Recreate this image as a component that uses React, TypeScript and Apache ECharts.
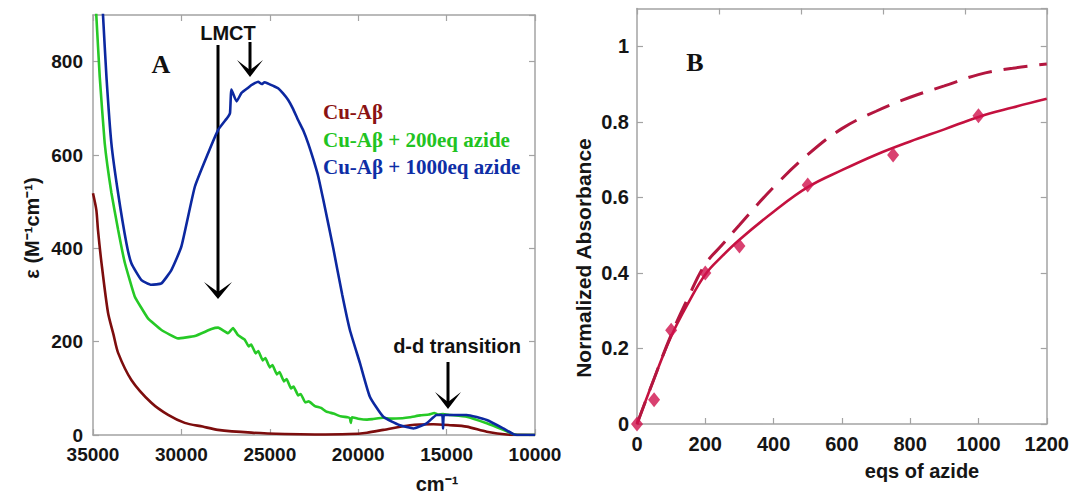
import React, { useEffect, useRef } from "react";
import * as echarts from "echarts";

// Panel A: wavenumber (cm-1) vs epsilon (M-1 cm-1)
const cuAbeta: [number, number][] = [
  [35000, 518], [34810, 482], [34720, 440], [34520, 369], [34150, 262], [33840, 215],
  [33580, 176], [32830, 118], [31700, 69], [30750, 43], [29810, 26], [28800, 18],
  [27940, 11], [26040, 5], [24150, 2], [22450, 1], [20500, 2], [19500, 5], [18580, 11],
  [17070, 21], [15750, 23], [14810, 21], [13870, 18], [12730, 7], [11600, 1], [10000, 0],
];

const cuAbeta200: [number, number][] = [
  [34950, 990], [34810, 897], [34620, 768], [34340, 626], [33960, 519], [33580, 440],
  [33200, 369], [32640, 297], [31890, 250], [31130, 225], [30190, 207], [29240, 212],
  [28300, 227], [27920, 230], [27360, 218], [27080, 229], [26800, 214], [26410, 204],
  [26200, 190], [26050, 194], [25800, 175], [25650, 180], [25400, 160], [25250, 165],
  [25000, 145], [24850, 150], [24600, 130], [24450, 135], [24200, 115], [24050, 120],
  [23800, 100], [23650, 104], [23400, 85], [23250, 88], [23000, 70], [22800, 72],
  [22450, 62], [22100, 58], [21800, 50], [21400, 46], [21000, 40], [20600, 38],
  [20470, 36], [20420, 26], [20350, 38], [20000, 35], [19500, 33], [19200, 34],
  [18580, 37], [18200, 35], [17500, 36], [17070, 38], [16500, 42], [16000, 44],
  [15700, 47], [15500, 44], [15200, 45], [14810, 43], [13870, 39], [12730, 25],
  [11790, 11], [11230, 2], [11000, 0], [10000, 0],
];

const cuAbeta1000: [number, number][] = [
  [34500, 950], [34430, 897], [34240, 768], [33960, 625], [33580, 518], [33110, 411],
  [32830, 368], [32260, 332], [31700, 322], [31130, 325], [30560, 354], [30000, 404],
  [29240, 532], [28490, 604], [27920, 654], [27360, 682], [27250, 690], [27170, 740],
  [26880, 715], [26600, 733], [26300, 742], [26030, 750], [25850, 754], [25660, 757],
  [25450, 752], [25300, 756], [25090, 753], [24800, 748], [24530, 743], [24250, 732],
  [23960, 718], [23700, 700], [23400, 675], [23100, 652], [22830, 625], [22550, 592],
  [22260, 554], [21980, 505], [21700, 454], [21410, 400], [20900, 300], [20470, 225],
  [19900, 154], [19340, 82], [18580, 39], [17640, 21], [16880, 14], [16130, 25],
  [15560, 43], [15250, 43], [15200, 14], [15150, 43], [14810, 43], [13870, 43],
  [12730, 32], [11790, 14], [11230, 2], [11000, 0], [10000, 0],
];

// Panel B: eqs of azide vs normalized absorbance
const azideEq = [0, 50, 100, 200, 300, 500, 750, 1000];
const normAbs = [0, 0.064, 0.248, 0.4, 0.471, 0.633, 0.712, 0.816];

const fitEq = [0, 50, 100, 150, 200, 250, 300, 400, 500, 600, 700, 800, 900, 1000, 1100, 1200];
const fitSolid = [0, 0.12, 0.232, 0.32, 0.396, 0.445, 0.488, 0.562, 0.627, 0.672, 0.713, 0.748, 0.78, 0.813, 0.838, 0.861];
const fitDashed = [0, 0.12, 0.236, 0.335, 0.423, 0.475, 0.527, 0.627, 0.713, 0.782, 0.828, 0.865, 0.895, 0.925, 0.942, 0.953];

const SANS = '"Liberation Sans", Arial, sans-serif';
const SERIF = '"Liberation Serif", "Times New Roman", serif';
const AXIS_GRAY = "#a3a3a3";

const plain = (v: number) => String(parseFloat(Number(v).toFixed(3)));

function labelStyle(extra: any) {
  return {
    fontSize: 20,
    lineHeight: 16,
    fontWeight: "bold",
    color: "#151515",
    fontFamily: SANS,
    formatter: plain,
    ...extra,
  };
}

function axisBase(extra: any) {
  return {
    type: "value",
    splitLine: { show: false },
    axisLine: { show: true, onZero: false, lineStyle: { color: AXIS_GRAY, width: 1.5 } },
    axisTick: { show: true, inside: true, length: 6, lineStyle: { color: AXIS_GRAY, width: 1.2 } },
    ...extra,
  };
}

export default function App() {
  const ref = useRef<HTMLDivElement>(null);
  useEffect(() => {
    if (!ref.current) return;
    const chart = echarts.init(ref.current, null, { renderer: "svg" });
    const noLabel = { show: false };
    const option: any = {
      animation: false,
      backgroundColor: "#ffffff",
      grid: [
        { left: 93, top: 15, width: 442, height: 420 },
        { left: 637, top: 8.5, width: 410, height: 415.5 },
      ],
      xAxis: [
        axisBase({ gridIndex: 0, position: "bottom", min: 10000, max: 35000, interval: 5000, inverse: true,
          axisLabel: labelStyle({ margin: 11, fontSize: 19 }) }),
        axisBase({ gridIndex: 0, position: "top", min: 10000, max: 35000, interval: 5000, inverse: true, axisLabel: noLabel }),
        axisBase({ gridIndex: 1, position: "bottom", min: 0, max: 1200, interval: 200,
          axisLabel: labelStyle({ margin: 12 }) }),
        axisBase({ gridIndex: 1, position: "top", min: 0, max: 1200, interval: 240, axisLabel: noLabel }),
      ],
      yAxis: [
        axisBase({ gridIndex: 0, position: "left", min: 0, max: 900, interval: 200,
          axisLabel: labelStyle({ margin: 10, fontSize: 19, showMaxLabel: false }) }),
        axisBase({ gridIndex: 0, position: "right", min: 0, max: 900, interval: 200, axisLabel: noLabel }),
        axisBase({ gridIndex: 1, position: "left", min: 0, max: 1.1, interval: 0.2,
          axisLabel: labelStyle({ margin: 8, showMaxLabel: false }) }),
        axisBase({ gridIndex: 1, position: "right", min: 0, max: 1.1, interval: 0.2, axisLabel: noLabel }),
      ],
      series: [
        {
          name: "Cu-Aβ", type: "line", xAxisIndex: 0, yAxisIndex: 0, data: cuAbeta,
          showSymbol: false, smooth: 0.25, lineStyle: { color: "#7d0d0d", width: 2.6 },
        },
        {
          name: "Cu-Aβ + 200eq azide", type: "line", xAxisIndex: 0, yAxisIndex: 0, data: cuAbeta200,
          showSymbol: false, smooth: 0.1, lineStyle: { color: "#26c926", width: 2.6 },
        },
        {
          name: "Cu-Aβ + 1000eq azide", type: "line", xAxisIndex: 0, yAxisIndex: 0, data: cuAbeta1000,
          showSymbol: false, smooth: 0.15, lineStyle: { color: "#0c28a0", width: 2.6 },
        },
        {
          name: "fit", type: "line", xAxisIndex: 2, yAxisIndex: 2,
          data: fitEq.map((x, i) => [x, fitSolid[i]]),
          showSymbol: false, smooth: 0.4, lineStyle: { color: "#c4113f", width: 2.6 },
        },
        {
          name: "fit dashed", type: "line", xAxisIndex: 2, yAxisIndex: 2,
          data: fitEq.map((x, i) => [x, fitDashed[i]]),
          showSymbol: false, smooth: 0.4, lineStyle: { color: "#b3163f", width: 3, type: [24, 12] },
        },
        {
          name: "data", type: "scatter", xAxisIndex: 2, yAxisIndex: 2,
          data: azideEq.map((x, i) => [x, normAbs[i]]),
          symbol: "diamond", symbolSize: [12, 15], itemStyle: { color: "#d0124c" }, z: 5,
        },
      ],
      graphic: [
        { type: "text", x: 161, y: 64, style: { text: "A", font: `bold 26px ${SERIF}`, fill: "#111", align: "center", verticalAlign: "middle" } },
        { type: "text", x: 695, y: 62, style: { text: "B", font: `bold 26px ${SERIF}`, fill: "#111", align: "center", verticalAlign: "middle" } },
        { type: "text", x: 228, y: 33, style: { text: "LMCT", font: `bold 20px ${SANS}`, fill: "#111", align: "center", verticalAlign: "middle" } },
        { type: "line", shape: { x1: 218, y1: 45, x2: 218, y2: 292 }, style: { stroke: "#000", lineWidth: 3 } },
        { type: "polygon", shape: { points: [[204, 282], [218, 299], [232, 282], [218, 292]] }, style: { fill: "#000" } },
        { type: "line", shape: { x1: 250, y1: 42, x2: 250, y2: 70 }, style: { stroke: "#000", lineWidth: 3 } },
        { type: "polygon", shape: { points: [[237, 60], [250, 77], [263, 60], [250, 70]] }, style: { fill: "#000" } },
        { type: "text", x: 457, y: 346, style: { text: "d-d transition", font: `bold 20px ${SANS}`, fill: "#111", align: "center", verticalAlign: "middle" } },
        { type: "line", shape: { x1: 448, y1: 362, x2: 448, y2: 402 }, style: { stroke: "#000", lineWidth: 3 } },
        { type: "polygon", shape: { points: [[435, 392], [448, 409], [461, 392], [448, 402]] }, style: { fill: "#000" } },
        { type: "text", x: 323, y: 112, style: { text: "Cu-Aβ", font: `bold 21px ${SERIF}`, fill: "#8b1212", align: "left", verticalAlign: "middle" } },
        { type: "text", x: 323, y: 140, style: { text: "Cu-Aβ + 200eq azide", font: `bold 21px ${SERIF}`, fill: "#22c322", align: "left", verticalAlign: "middle" } },
        { type: "text", x: 323, y: 167, style: { text: "Cu-Aβ + 1000eq azide", font: `bold 21px ${SERIF}`, fill: "#0e2ea6", align: "left", verticalAlign: "middle" } },
        { type: "text", x: 32, y: 228, rotation: Math.PI / 2, style: { text: "ε (M⁻¹cm⁻¹)", font: `bold 20px ${SANS}`, fill: "#151515", align: "center", verticalAlign: "middle" } },
        { type: "text", x: 437, y: 484, style: { text: "cm⁻¹", font: `bold 20px ${SANS}`, fill: "#151515", align: "center", verticalAlign: "middle" } },
        { type: "text", x: 583, y: 258, rotation: Math.PI / 2, style: { text: "Normalized Absorbance", font: `bold 21px ${SANS}`, fill: "#151515", align: "center", verticalAlign: "middle" } },
        { type: "text", x: 922, y: 471, style: { text: "eqs of azide", font: `bold 20px ${SANS}`, fill: "#151515", align: "center", verticalAlign: "middle" } },
      ],
    };
    chart.setOption(option);
    return () => chart.dispose();
  }, []);
  return (
    <div
      ref={ref}
      style={{ position: "fixed", left: 0, top: 0, width: 1072, height: 494, background: "#fff" }}
    />
  );
}
